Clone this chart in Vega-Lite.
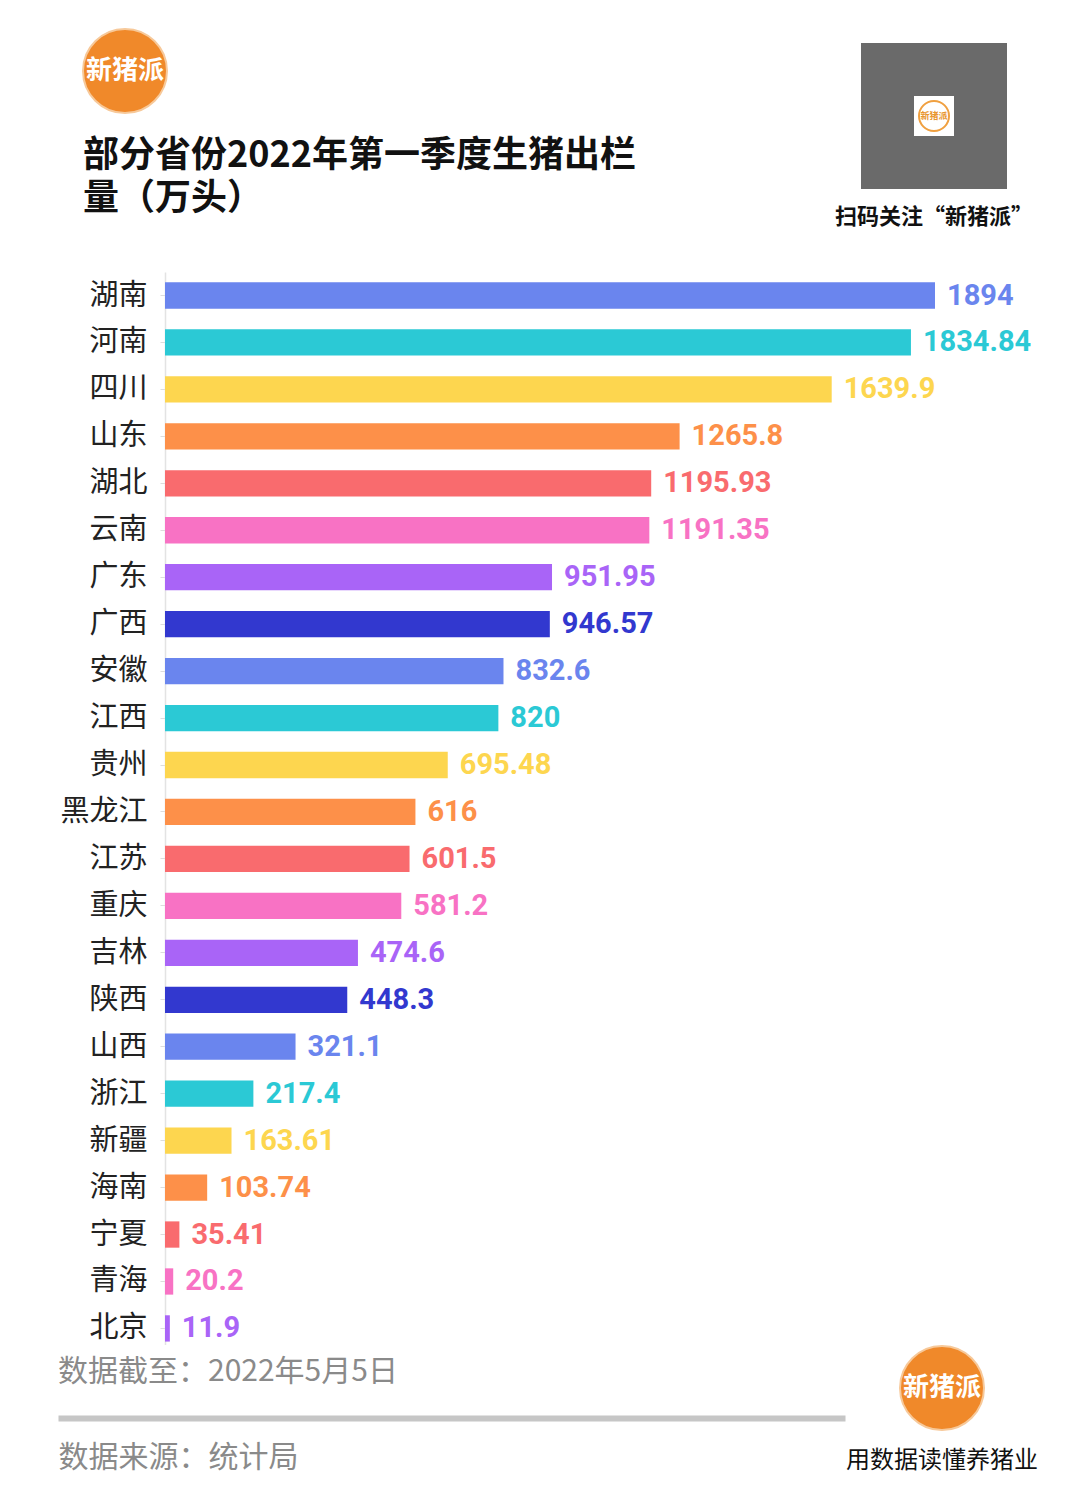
{
  "$schema": "https://vega.github.io/schema/vega-lite/v6.json",
  "background": "white",
  "padding": {"left": 58, "top": 28, "right": 5, "bottom": 5},
  "autosize": {"type": "pad"},
  "spacing": 0,
  "config": {
    "font": "Noto Sans CJK SC",
    "view": {"stroke": null}
  },
  "vconcat": [
    {
      "spacing": 0,
      "hconcat": [
        {
          "width": 24,
          "height": 242.5,
          "data": {"values": [{"t": ""}]},
          "mark": {"type": "text", "baseline": "middle"},
          "encoding": {"text": {"field": "t", "type": "nominal"}}
        },
        {
          "width": 84,
          "height": 84,
          "view": {"fill": "#f0892a", "cornerRadius": 42, "stroke": "#f7c99a", "strokeWidth": 2},
          "data": {"values": [{"t": "新猪派"}]},
          "mark": {"type": "text", "fill": "white", "fontSize": 26, "fontWeight": "bold", "baseline": "middle"},
          "encoding": {"text": {"field": "t", "type": "nominal"}},
          "title": {
            "text": ["部分省份2022年第一季度生猪出栏", "量（万头）"],
            "orient": "bottom",
            "anchor": "start",
            "fontSize": 36,
            "fontWeight": "bold",
            "color": "#111111",
            "lineHeight": 43,
            "offset": 26
          }
        },
        {
          "width": 197,
          "height": 20,
          "data": {"values": [{"t": ""}]},
          "mark": {"type": "text", "baseline": "middle"},
          "encoding": {"text": {"field": "t", "type": "nominal"}}
        },
        {
          "width": 146,
          "height": 174,
          "data": {"values": [{"t": "新猪派"}]},
          "layer": [
            {"mark": {"type": "point", "shape": "square", "size": 21316, "filled": true, "fill": "#6a6a6a", "opacity": 1}, "encoding": {}},
            {"mark": {"type": "point", "shape": "square", "size": 1600, "filled": true, "fill": "white", "opacity": 1}, "encoding": {}},
            {"mark": {"type": "point", "shape": "circle", "size": 900, "filled": false, "stroke": "#f0a040", "strokeWidth": 2, "opacity": 1}, "encoding": {}},
            {"mark": {"type": "text", "fill": "#e8952e", "fontSize": 9, "fontWeight": "bold", "baseline": "middle"}, "encoding": {"text": {"field": "t", "type": "nominal"}}}
          ],
          "title": {
            "text": "扫码关注“新猪派”",
            "orient": "bottom",
            "anchor": "middle",
            "fontSize": 22,
            "fontWeight": "bold",
            "color": "#111111",
            "offset": 4
          }
        }
      ]
    },
    {
      "spacing": 0,
      "hconcat": [
        {
          "width": 1,
          "height": 1,
          "data": {"values": [{"t": ""}]},
          "mark": {"type": "text", "baseline": "top"},
          "encoding": {"text": {"field": "t", "type": "nominal"}}
        },
        {
          "width": 770,
          "height": 1072.5,
          "data": {
            "values": [
              {"province": "湖南", "value": 1894},
              {"province": "河南", "value": 1834.84},
              {"province": "四川", "value": 1639.9},
              {"province": "山东", "value": 1265.8},
              {"province": "湖北", "value": 1195.93},
              {"province": "云南", "value": 1191.35},
              {"province": "广东", "value": 951.95},
              {"province": "广西", "value": 946.57},
              {"province": "安徽", "value": 832.6},
              {"province": "江西", "value": 820},
              {"province": "贵州", "value": 695.48},
              {"province": "黑龙江", "value": 616},
              {"province": "江苏", "value": 601.5},
              {"province": "重庆", "value": 581.2},
              {"province": "吉林", "value": 474.6},
              {"province": "陕西", "value": 448.3},
              {"province": "山西", "value": 321.1},
              {"province": "浙江", "value": 217.4},
              {"province": "新疆", "value": 163.61},
              {"province": "海南", "value": 103.74},
              {"province": "宁夏", "value": 35.41},
              {"province": "青海", "value": 20.2},
              {"province": "北京", "value": 11.9}
            ]
          },
          "encoding": {
            "y": {
              "field": "province",
              "type": "nominal",
              "sort": null,
              "scale": {"paddingInner": 0.44, "paddingOuter": 0.1415, "align": 0.78},
              "axis": {
                "title": null,
                "labelFontSize": 29,
                "labelColor": "#222222",
                "labelFont": "Noto Sans CJK SC",
                "labelPadding": 13,
                "ticks": true,
                "tickSize": 5,
                "tickColor": "#dddddd",
                "domainColor": "#e3e3e3",
                "domainWidth": 1.5
              }
            },
            "x": {
              "field": "value",
              "type": "quantitative",
              "scale": {"domain": [0, 1894], "nice": false, "zero": true},
              "axis": null
            },
            "color": {
              "field": "province",
              "type": "nominal",
              "legend": null,
              "scale": {
                "domain": ["湖南", "河南", "四川", "山东", "湖北", "云南", "广东", "广西", "安徽", "江西", "贵州", "黑龙江", "江苏", "重庆", "吉林", "陕西", "山西", "浙江", "新疆", "海南", "宁夏", "青海", "北京"],
                "range": ["#6a85ee", "#2bc9d5", "#fdd64f", "#fd9049", "#f96b6e", "#f872c4", "#a964f7", "#3238cf"]
              }
            }
          },
          "layer": [
            {"mark": {"type": "bar"}},
            {
              "mark": {
                "type": "text",
                "align": "left",
                "baseline": "middle",
                "dx": 12,
                "font": "Roboto",
                "fontWeight": "bold",
                "fontSize": 29
              },
              "encoding": {"text": {"field": "value", "type": "nominal"}}
            }
          ]
        }
      ]
    },
    {
      "spacing": 0,
      "hconcat": [
        {
          "width": 787,
          "height": 72,
          "data": {"values": [{"v": 0}]},
          "mark": {"type": "text"},
          "encoding": {
            "x": {
              "field": "v",
              "type": "quantitative",
              "scale": {"domain": [0, 1]},
              "axis": {
                "domain": true,
                "domainColor": "#c6c6c6",
                "domainWidth": 6,
                "ticks": false,
                "labels": false,
                "grid": false,
                "title": "数据来源：统计局",
                "titleAnchor": "start",
                "titleAlign": "left",
                "titleFontSize": 30,
                "titleFontWeight": "normal",
                "titleColor": "#8a8a8a",
                "titlePadding": 24
              }
            },
            "text": {"value": ""}
          },
          "title": {
            "text": "数据截至：2022年5月5日",
            "orient": "top",
            "anchor": "start",
            "fontSize": 30,
            "fontWeight": "normal",
            "color": "#8a8a8a",
            "offset": -41
          }
        },
        {
          "width": 84,
          "height": 84,
          "view": {"fill": "#f0892a", "cornerRadius": 42, "stroke": "#f7c99a", "strokeWidth": 2},
          "data": {"values": [{"t": "新猪派"}]},
          "mark": {"type": "text", "fill": "white", "fontSize": 26, "fontWeight": "bold", "baseline": "middle"},
          "encoding": {"text": {"field": "t", "type": "nominal"}},
          "title": {
            "text": "用数据读懂养猪业",
            "orient": "bottom",
            "anchor": "middle",
            "fontSize": 24,
            "fontWeight": "normal",
            "color": "#111111",
            "offset": 19
          }
        }
      ]
    }
  ]
}
